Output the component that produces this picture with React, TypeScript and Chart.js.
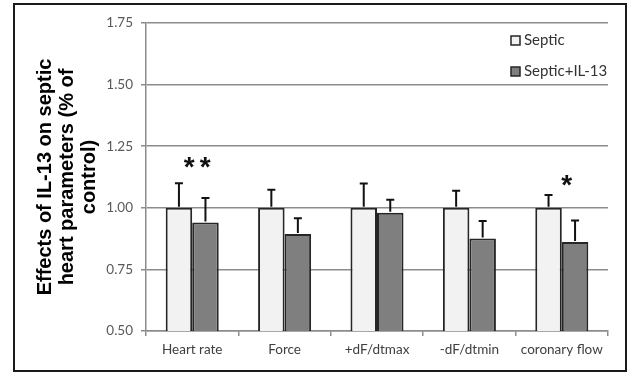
import React, { useEffect, useRef } from "react";
import { Chart, registerables } from "chart.js";

Chart.register(...registerables);

const categories = ["Heart rate", "Force", "+dF/dtmax", "-dF/dtmin", "coronary flow"];
const seriesNames = ["Septic", "Septic+IL-13"];
const septic = [1.0, 1.0, 1.0, 1.0, 1.0];
const septicIL13 = [0.94, 0.894, 0.98, 0.875, 0.861];
const septicErr = [0.1, 0.073, 0.099, 0.069, 0.052];
const septicIL13Err = [0.1, 0.064, 0.053, 0.071, 0.087];
const significance = ["**", "", "", "", "*"];
const significanceLevel = [1.19, 0, 0, 0, 1.115];
const yTicks = [0.5, 0.75, 1.0, 1.25, 1.5, 1.75];
const yTitle = ["Effects of IL-13 on septic", "heart parameters (% of", "control)"];

const lightFill = "#f2f2f2";
const darkFill = "#7f7f7f";
const edge = "#262626";
const gridColor = "#8c8c8c";

const overlay = {
  id: "overlay",
  afterDatasetsDraw(chart: any) {
    const ctx = chart.ctx;
    const y = chart.scales.y;
    const errs = [septicErr, septicIL13Err];
    const vals = [septic, septicIL13];
    ctx.save();
    ctx.strokeStyle = "#111";
    ctx.lineWidth = 2;
    for (let d = 0; d < 2; d++) {
      const meta = chart.getDatasetMeta(d);
      meta.data.forEach((bar: any, i: number) => {
        const y0 = y.getPixelForValue(vals[d][i]);
        const y1 = y.getPixelForValue(vals[d][i] + errs[d][i]);
        ctx.beginPath();
        ctx.moveTo(bar.x, y0 - 1);
        ctx.lineTo(bar.x, y1);
        ctx.moveTo(bar.x - 4, y1);
        ctx.lineTo(bar.x + 4, y1);
        ctx.stroke();
      });
    }
    const xs = chart.scales.x;
    ctx.fillStyle = "#111";
    ctx.font = "bold 28px 'Liberation Sans', Arial";
    ctx.textAlign = "center";
    ctx.textBaseline = "middle";
    significance.forEach((s, i) => {
      if (!s) return;
      const cx = xs.getPixelForValue(i) + 5;
      const cy = y.getPixelForValue(significanceLevel[i]) + 7;
      const n = s.length;
      for (let k = 0; k < n; k++) {
        ctx.fillText("*", cx + (k - (n - 1) / 2) * 16, cy);
      }
    });
    ctx.restore();
  },
  afterDraw(chart: any) {
    const ctx = chart.ctx;
    ctx.save();
    ctx.strokeStyle = "#1a1a1a";
    ctx.lineWidth = 2;
    ctx.strokeRect(14, 4, 612, 367);
    const area = chart.chartArea;
    const cy = (area.top + area.bottom) / 2;
    ctx.fillStyle = "#000";
    ctx.font = "bold 20px 'Liberation Sans', Arial";
    ctx.textAlign = "center";
    ctx.textBaseline = "middle";
    yTitle.forEach((line, k) => {
      ctx.save();
      ctx.translate(45 + k * 22, cy);
      ctx.rotate(-Math.PI / 2);
      ctx.fillText(line, 0, 0);
      ctx.restore();
    });
    const fills = [lightFill, darkFill];
    ctx.font = "15px Lato";
    ctx.textAlign = "left";
    ctx.textBaseline = "middle";
    seriesNames.forEach((name, k) => {
      const ly = 40.5 + k * 31;
      ctx.fillStyle = fills[k];
      ctx.fillRect(511, ly - 4.5, 9, 9);
      ctx.strokeStyle = edge;
      ctx.lineWidth = 1.5;
      ctx.strokeRect(511, ly - 4.5, 9, 9);
      ctx.fillStyle = "#333";
      ctx.fillText(name, 524, ly);
    });
    ctx.restore();
  },
};

export default function App() {
  const ref = useRef<HTMLCanvasElement>(null);
  useEffect(() => {
    if (!ref.current) return;
    const chart = new Chart(ref.current, {
      type: "bar",
      data: {
        labels: categories,
        datasets: [
          {
            label: seriesNames[0],
            data: septic,
            backgroundColor: lightFill,
            borderColor: edge,
            borderWidth: 2,
            borderSkipped: "bottom",
          },
          {
            label: seriesNames[1],
            data: septicIL13,
            backgroundColor: darkFill,
            borderColor: edge,
            borderWidth: 2,
            borderSkipped: "bottom",
          },
        ],
      },
      options: {
        animation: false,
        responsive: false,
        devicePixelRatio: 1,
        layout: { padding: { top: 23, right: 21, left: 0, bottom: 0 } },
        datasets: { bar: { categoryPercentage: 0.574, barPercentage: 1 } },
        plugins: { legend: { display: false }, tooltip: { enabled: false } },
        scales: {
          x: {
            grid: { display: true, drawOnChartArea: false, tickLength: 5, color: gridColor, lineWidth: 1.5, offset: true },
            border: { color: gridColor, width: 1.5 },
            ticks: { color: "#404040", font: { family: "Lato", size: 13.5 }, padding: 6 },
            afterFit: (s: any) => { s.height = 43; },
          },
          y: {
            min: yTicks[0],
            max: yTicks[yTicks.length - 1],
            afterBuildTicks: (s: any) => { s.ticks = yTicks.map((v) => ({ value: v })); },
            ticks: {
              color: "#595959",
              font: { family: "Lato", size: 13.5 },
              padding: 8,
              callback: (v: any) => Number(v).toFixed(2),
            },
            grid: { color: gridColor, lineWidth: 1.5, tickLength: 5 },
            border: { color: gridColor, width: 1.5 },
            afterFit: (s: any) => { s.width = 146; },
          },
        },
      },
      plugins: [overlay],
    });
    return () => chart.destroy();
  }, []);
  return (
    <div style={{ position: "absolute", left: 0, top: 0, width: 629, height: 374, background: "#fff" }}>
      <canvas ref={ref} width={629} height={374} />
    </div>
  );
}
